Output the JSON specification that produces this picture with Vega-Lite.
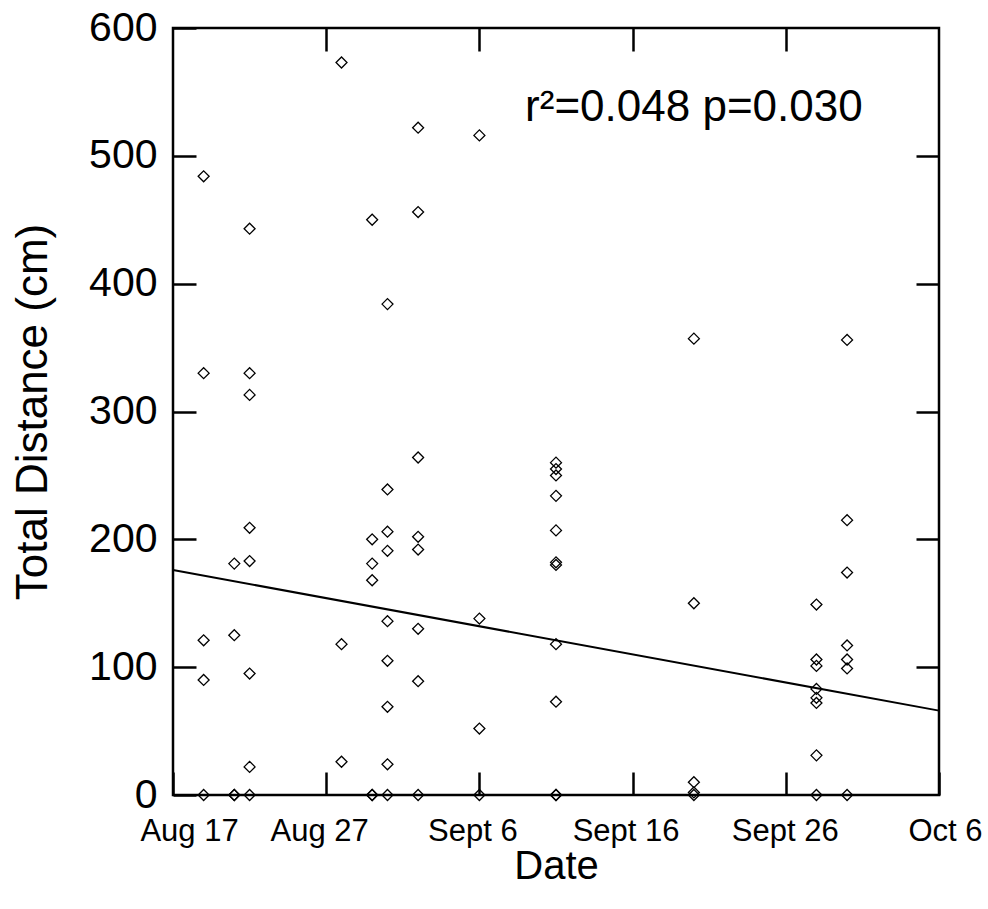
{
  "$schema": "https://vega.github.io/schema/vega-lite/v6.json",
  "width": 766,
  "height": 767,
  "autosize": "none",
  "padding": {"left": 173, "top": 28, "right": 49, "bottom": 114},
  "background": "white",
  "config": {
    "font": "Liberation Sans",
    "view": {"stroke": "black", "strokeWidth": 2.5},
    "axis": {
      "grid": false,
      "domain": false,
      "ticks": true,
      "tickColor": "black",
      "tickWidth": 2.5,
      "tickSize": -23,
      "labelColor": "black",
      "titleColor": "black",
      "titleFontWeight": "normal"
    }
  },
  "datasets": {
    "movement": [
      {"date": "2002-08-19", "dist": 484},
      {"date": "2002-08-19", "dist": 330},
      {"date": "2002-08-19", "dist": 121},
      {"date": "2002-08-19", "dist": 90},
      {"date": "2002-08-19", "dist": 0},
      {"date": "2002-08-21", "dist": 181},
      {"date": "2002-08-21", "dist": 125},
      {"date": "2002-08-21", "dist": 0},
      {"date": "2002-08-21", "dist": 0},
      {"date": "2002-08-22", "dist": 443},
      {"date": "2002-08-22", "dist": 330},
      {"date": "2002-08-22", "dist": 313},
      {"date": "2002-08-22", "dist": 209},
      {"date": "2002-08-22", "dist": 183},
      {"date": "2002-08-22", "dist": 95},
      {"date": "2002-08-22", "dist": 22},
      {"date": "2002-08-22", "dist": 0},
      {"date": "2002-08-28", "dist": 573},
      {"date": "2002-08-28", "dist": 118},
      {"date": "2002-08-28", "dist": 26},
      {"date": "2002-08-30", "dist": 450},
      {"date": "2002-08-30", "dist": 200},
      {"date": "2002-08-30", "dist": 181},
      {"date": "2002-08-30", "dist": 168},
      {"date": "2002-08-30", "dist": 0},
      {"date": "2002-08-30", "dist": 0},
      {"date": "2002-08-31", "dist": 384},
      {"date": "2002-08-31", "dist": 239},
      {"date": "2002-08-31", "dist": 206},
      {"date": "2002-08-31", "dist": 191},
      {"date": "2002-08-31", "dist": 136},
      {"date": "2002-08-31", "dist": 105},
      {"date": "2002-08-31", "dist": 69},
      {"date": "2002-08-31", "dist": 24},
      {"date": "2002-08-31", "dist": 0},
      {"date": "2002-09-02", "dist": 522},
      {"date": "2002-09-02", "dist": 456},
      {"date": "2002-09-02", "dist": 264},
      {"date": "2002-09-02", "dist": 202},
      {"date": "2002-09-02", "dist": 192},
      {"date": "2002-09-02", "dist": 130},
      {"date": "2002-09-02", "dist": 89},
      {"date": "2002-09-02", "dist": 0},
      {"date": "2002-09-06", "dist": 516},
      {"date": "2002-09-06", "dist": 138},
      {"date": "2002-09-06", "dist": 52},
      {"date": "2002-09-06", "dist": 0},
      {"date": "2002-09-11", "dist": 260},
      {"date": "2002-09-11", "dist": 255},
      {"date": "2002-09-11", "dist": 250},
      {"date": "2002-09-11", "dist": 234},
      {"date": "2002-09-11", "dist": 207},
      {"date": "2002-09-11", "dist": 182},
      {"date": "2002-09-11", "dist": 180},
      {"date": "2002-09-11", "dist": 118},
      {"date": "2002-09-11", "dist": 73},
      {"date": "2002-09-11", "dist": 0},
      {"date": "2002-09-11", "dist": 0},
      {"date": "2002-09-20", "dist": 357},
      {"date": "2002-09-20", "dist": 150},
      {"date": "2002-09-20", "dist": 10},
      {"date": "2002-09-20", "dist": 2},
      {"date": "2002-09-20", "dist": 0},
      {"date": "2002-09-28", "dist": 149},
      {"date": "2002-09-28", "dist": 106},
      {"date": "2002-09-28", "dist": 101},
      {"date": "2002-09-28", "dist": 83},
      {"date": "2002-09-28", "dist": 76},
      {"date": "2002-09-28", "dist": 72},
      {"date": "2002-09-28", "dist": 31},
      {"date": "2002-09-28", "dist": 0},
      {"date": "2002-09-30", "dist": 356},
      {"date": "2002-09-30", "dist": 215},
      {"date": "2002-09-30", "dist": 174},
      {"date": "2002-09-30", "dist": 117},
      {"date": "2002-09-30", "dist": 106},
      {"date": "2002-09-30", "dist": 99},
      {"date": "2002-09-30", "dist": 0}
    ],
    "fit": [
      {"date": "2002-08-17", "dist": 176},
      {"date": "2002-10-06", "dist": 66}
    ],
    "stats": [
      {"date": "2002-09-20", "dist": 527, "label": "r²=0.048 p=0.030"}
    ]
  },
  "layer": [
    {
      "data": {"name": "movement"},
      "mark": {"type": "point", "shape": "diamond", "filled": false, "stroke": "black", "strokeWidth": 1.3, "size": 120, "opacity": 1},
      "encoding": {
        "x": {
          "field": "date",
          "type": "temporal",
          "scale": {
            "type": "utc",
            "domain": [
              {"year": 2002, "month": 8, "date": 17, "utc": true},
              {"year": 2002, "month": 10, "date": 6, "utc": true}
            ]
          },
          "axis": {
            "orient": "bottom",
            "title": "Date",
            "titleFontSize": 40,
            "titlePadding": 0,
            "labelFontSize": 31,
            "labelPadding": 44,
            "labelFlush": false,
            "labelOverlap": false,
            "labelOffset": {
              "condition": [
                {"test": "utcmonth(datum.value) == 7 && utcdate(datum.value) == 17", "value": 16},
                {"test": "utcmonth(datum.value) == 9", "value": 6},
                {"test": "utcmonth(datum.value) == 8 && utcdate(datum.value) == 26", "value": -1}
              ],
              "value": -7
            },
            "values": [
              {"year": 2002, "month": 8, "date": 17, "utc": true},
              {"year": 2002, "month": 8, "date": 27, "utc": true},
              {"year": 2002, "month": 9, "date": 6, "utc": true},
              {"year": 2002, "month": 9, "date": 16, "utc": true},
              {"year": 2002, "month": 9, "date": 26, "utc": true},
              {"year": 2002, "month": 10, "date": 6, "utc": true}
            ],
            "labelExpr": "(utcmonth(datum.value) == 7 ? 'Aug ' : utcmonth(datum.value) == 8 ? 'Sept ' : 'Oct ') + utcdate(datum.value)"
          }
        },
        "y": {
          "field": "dist",
          "type": "quantitative",
          "scale": {"domain": [0, 600], "nice": false, "zero": true},
          "axis": {
            "orient": "left",
            "title": "Total Distance (cm)",
            "titleFontSize": 44,
            "titlePadding": 33,
            "labelFontSize": 41,
            "labelPadding": 39,
            "values": [0, 100, 200, 300, 400, 500, 600],
            "labelFlush": false
          }
        }
      }
    },
    {
      "data": {"name": "fit"},
      "mark": {"type": "line", "color": "black", "strokeWidth": 2},
      "encoding": {
        "x": {
          "field": "date",
          "type": "temporal",
          "axis": {
            "orient": "top",
            "title": null,
            "labels": false,
            "values": [
              {"year": 2002, "month": 8, "date": 27, "utc": true},
              {"year": 2002, "month": 9, "date": 6, "utc": true},
              {"year": 2002, "month": 9, "date": 16, "utc": true},
              {"year": 2002, "month": 9, "date": 26, "utc": true}
            ]
          }
        },
        "y": {
          "field": "dist",
          "type": "quantitative",
          "axis": {
            "orient": "right",
            "title": null,
            "labels": false,
            "values": [100, 200, 300, 400, 500]
          }
        }
      }
    },
    {
      "data": {"name": "stats"},
      "mark": {"type": "text", "fontSize": 44, "align": "center", "baseline": "alphabetic", "color": "black"},
      "encoding": {
        "x": {"field": "date", "type": "temporal", "axis": null},
        "y": {"field": "dist", "type": "quantitative", "axis": null},
        "text": {"field": "label"}
      }
    }
  ],
  "resolve": {"axis": {"x": "independent", "y": "independent"}}
}
